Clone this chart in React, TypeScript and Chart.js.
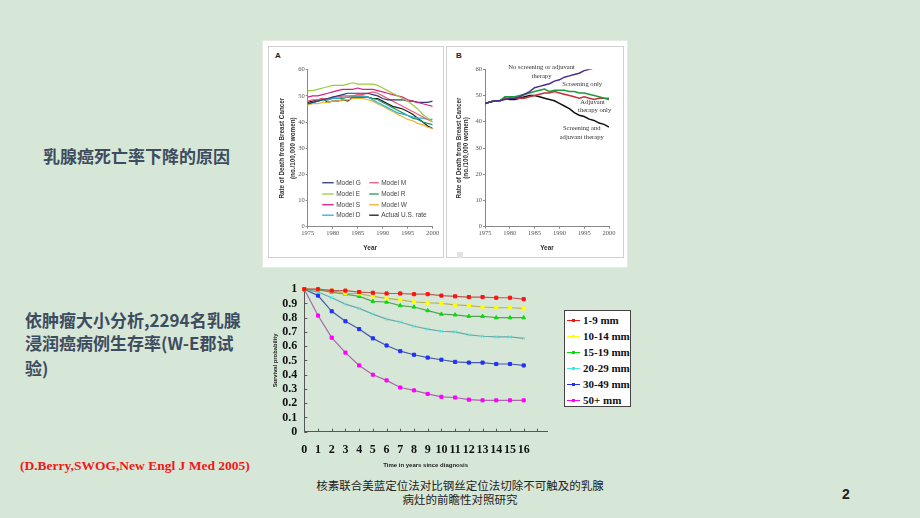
import { useEffect, useRef } from 'react';
import { Chart, registerables } from 'chart.js';

Chart.register(...registerables);

// ---------- Panel A: model estimates ----------
const YEARS = [1975, 1976, 1977, 1978, 1979, 1980, 1981, 1982, 1983, 1984, 1985, 1986, 1987, 1988, 1989, 1990, 1991, 1992, 1993, 1994, 1995, 1996, 1997, 1998, 1999, 2000];
const MODEL_G = [47, 47.5, 48, 48.5, 49, 49.5, 50, 50.5, 51, 51, 51, 51, 51, 50.5, 50, 49, 48.5, 48.5, 48.5, 48.5, 48, 48, 47.5, 47.5, 47.5, 48];
const MODEL_E = [52, 52, 52.5, 53, 53.5, 54, 54, 54, 54.5, 55, 54.5, 54.5, 54.5, 54.5, 54, 53, 52, 51, 50, 49, 48, 46.5, 45, 43, 41.5, 40];
const MODEL_S = [49.5, 50, 50, 50.5, 51, 51.5, 52, 52.5, 52.5, 52.5, 53, 52.5, 52.5, 52.5, 52, 51.5, 51, 50.5, 50, 49.5, 48.5, 48, 47.5, 47, 46.5, 46];
const MODEL_D = [47, 47.5, 48, 48.5, 48.5, 49, 49, 49.5, 49.5, 50, 50, 50, 49.5, 48.5, 47.5, 46.5, 45.5, 44.5, 43.5, 43, 42.5, 42, 41.5, 41.5, 41, 41];
const MODEL_M = [48, 48.5, 48.5, 49, 49, 49.5, 49.5, 50, 50, 50, 50.5, 50.5, 51, 51.5, 51, 50, 49, 48, 47, 46, 45, 44, 43, 42, 41, 40];
const MODEL_R = [47, 47.5, 48, 48.5, 48.5, 49, 49, 49, 49.5, 49.5, 49.5, 49.5, 49.5, 49, 48.5, 47.5, 46.5, 45.5, 44.5, 43.5, 42.5, 41.5, 41, 40, 39.5, 39];
const MODEL_W = [46.5, 47, 47, 47.5, 47.5, 48, 48, 48.5, 48.5, 49, 49, 49, 48.5, 48, 47, 46, 45, 44, 43, 42, 41, 40.5, 39.5, 39, 38, 37.5];
const ACTUAL_US = [47.5, 48, 48.5, 49, 47.5, 48, 48, 48.5, 48, 49.5, 49.5, 49.5, 49.5, 49, 49, 48, 47, 46, 45.5, 45, 44, 43, 41.5, 40, 38.5, 37.5];
const A_LEGEND_LEFT = ['Model G', 'Model E', 'Model S', 'Model D'];
const A_LEGEND_RIGHT = ['Model M', 'Model R', 'Model W', 'Actual U.S. rate'];

// ---------- Panel B: screening / adjuvant therapy ----------
const NO_SCREENING = [47, 47.5, 48, 48, 48.5, 49, 49, 49.5, 50.5, 51.5, 53, 53.5, 54, 54.5, 55.5, 56, 57, 57.5, 58, 58.5, 59.5, 60, 60.5, 61, 61.5, 62];
const SCREENING_ONLY = [47, 47.5, 48, 48, 49.5, 49.5, 49.5, 50, 50.5, 51, 51.5, 52, 52.5, 51.5, 52, 52, 52, 51.5, 51.5, 51, 51, 50.5, 50, 49.5, 49, 49];
const ADJUVANT_ONLY = [47, 47.5, 48, 48, 49, 49, 49, 49, 49, 49.5, 50, 50.5, 51, 51, 51.5, 51, 50.5, 50, 49.5, 49, 49.5, 49, 48.5, 49, 49, 48.5];
const SCREENING_AND_ADJ = [47, 47.5, 48, 48, 49, 48.5, 48.5, 49, 49.5, 50, 50, 49.5, 49, 48.5, 48, 47, 46, 45, 43.5, 42.5, 42, 41, 40.5, 39.5, 39, 38];
const B_LABELS = ['No screening or adjuvant', 'therapy', 'Screening only', 'Adjuvant', 'therapy only', 'Screening and', 'adjuvant therapy'];

// ---------- Survival by tumour size ----------
const SURV_YEARS = [0, 1, 2, 3, 4, 5, 6, 7, 8, 9, 10, 11, 12, 13, 14, 15, 16];
const SURV_1_9 = [1, 1, 0.99, 0.99, 0.98, 0.975, 0.97, 0.97, 0.965, 0.965, 0.955, 0.95, 0.945, 0.945, 0.94, 0.94, 0.93];
const SURV_10_14 = [1, 1, 0.99, 0.97, 0.97, 0.95, 0.935, 0.925, 0.91, 0.905, 0.9, 0.89, 0.885, 0.875, 0.87, 0.87, 0.865];
const SURV_15_19 = [1, 0.995, 0.98, 0.965, 0.95, 0.915, 0.91, 0.885, 0.875, 0.85, 0.825, 0.82, 0.81, 0.81, 0.8, 0.8, 0.8];
const SURV_20_29 = [1, 0.98, 0.94, 0.895, 0.865, 0.825, 0.79, 0.77, 0.74, 0.72, 0.705, 0.7, 0.68, 0.67, 0.665, 0.665, 0.655];
const SURV_30_49 = [1, 0.955, 0.845, 0.775, 0.72, 0.655, 0.605, 0.565, 0.54, 0.52, 0.505, 0.49, 0.485, 0.485, 0.475, 0.475, 0.465];
const SURV_50_PLUS = [1, 0.815, 0.66, 0.555, 0.465, 0.4, 0.36, 0.31, 0.29, 0.265, 0.245, 0.24, 0.225, 0.22, 0.22, 0.22, 0.22];
const SURV_LABELS = ['1-9 mm', '10-14 mm', '15-19 mm', '20-29 mm', '30-49 mm', '50+ mm'];
const SURV_X_TICKS = [0, 1, 2, 3, 4, 5, 6, 7, 8, 9, 10, 11, 12, 13, 14, 15, 16, 17];

const SANS = '"Liberation Sans", Arial, sans-serif';
const SERIF = '"Liberation Serif", "Times New Roman", serif';
const CJK = '"Noto Sans CJK SC", "Noto Sans", sans-serif';

const A_SERIES = [
  { label: 'Model E', data: MODEL_E, color: '#9ccc3c' },
  { label: 'Model S', data: MODEL_S, color: '#d8207c' },
  { label: 'Model G', data: MODEL_G, color: '#2b3a78' },
  { label: 'Model M', data: MODEL_M, color: '#f05a78' },
  { label: 'Model D', data: MODEL_D, color: '#2ab0d8' },
  { label: 'Model R', data: MODEL_R, color: '#1e9a5a' },
  { label: 'Model W', data: MODEL_W, color: '#f2b030' },
  { label: 'Actual U.S. rate', data: ACTUAL_US, color: '#1a1a1a' },
];

const B_SERIES = [
  { label: 'No screening or adjuvant therapy', data: NO_SCREENING, color: '#4a2d8c' },
  { label: 'Screening only', data: SCREENING_ONLY, color: '#1f9a3c' },
  { label: 'Adjuvant therapy only', data: ADJUVANT_ONLY, color: '#c8303c' },
  { label: 'Screening and adjuvant therapy', data: SCREENING_AND_ADJ, color: '#111111' },
];

const SURV_SERIES = [
  { data: SURV_1_9, line: '#b85a5a', point: '#ff1010', style: 'rect' },
  { data: SURV_10_14, line: '#b8b058', point: '#ffff00', style: 'rect' },
  { data: SURV_15_19, line: '#5aa05a', point: '#00e000', style: 'triangle' },
  { data: SURV_20_29, line: '#6aa8a8', point: '#40e8e8', style: 'crossRot' },
  { data: SURV_30_49, line: '#4a58a8', point: '#2030ff', style: 'rect' },
  { data: SURV_50_PLUS, line: '#a868a8', point: '#ff00ff', style: 'rect' },
];

function colorOf(label: string) {
  const s = A_SERIES.find((d) => d.label === label);
  return s ? s.color : '#000';
}

const aLegendPlugin = {
  id: 'aLegend',
  afterDatasetsDraw(chart: any) {
    const { ctx } = chart;
    const x = chart.scales.x;
    const y = chart.scales.y;
    const rows = [16.8, 12.5, 8.4, 4.4];
    ctx.save();
    ctx.font = `6.5px ${SANS}`;
    ctx.textBaseline = 'middle';
    ctx.textAlign = 'left';
    const drawCol = (labels: string[], x0: number, x1: number, xt: number) => {
      labels.forEach((lab, i) => {
        const py = y.getPixelForValue(rows[i]);
        ctx.strokeStyle = colorOf(lab);
        ctx.lineWidth = 1.3;
        ctx.beginPath();
        ctx.moveTo(x.getPixelForValue(x0), py);
        ctx.lineTo(x.getPixelForValue(x1), py);
        ctx.stroke();
        ctx.fillStyle = '#444';
        ctx.fillText(lab, x.getPixelForValue(xt), py);
      });
    };
    drawCol(A_LEGEND_LEFT, 1977.9, 1980.2, 1980.7);
    drawCol(A_LEGEND_RIGHT, 1987.3, 1989.2, 1989.7);
    ctx.restore();
  },
};

const bLabelPlugin = {
  id: 'bLabels',
  afterDatasetsDraw(chart: any) {
    const { ctx } = chart;
    const x = chart.scales.x;
    const y = chart.scales.y;
    const pos = [
      [1986.4, 60.9], [1986.4, 57.3], [1994.6, 54.4], [1996.7, 47.4], [1997.1, 44.2], [1994.5, 37.6], [1994.5, 34.2],
    ];
    ctx.save();
    ctx.font = `6.6px ${SERIF}`;
    ctx.fillStyle = '#333';
    ctx.textAlign = 'center';
    ctx.textBaseline = 'middle';
    B_LABELS.forEach((t, i) => {
      ctx.fillText(t, x.getPixelForValue(pos[i][0]), y.getPixelForValue(pos[i][1]));
    });
    ctx.restore();
  },
};

const inwardTicks = {
  id: 'inwardTicks',
  afterDraw(chart: any) {
    const { ctx, chartArea } = chart;
    const x = chart.scales.x;
    const y = chart.scales.y;
    ctx.save();
    ctx.strokeStyle = '#555';
    ctx.lineWidth = 1;
    SURV_X_TICKS.forEach((v) => {
      const px = Math.round(x.getPixelForValue(v)) + 0.5;
      ctx.beginPath();
      ctx.moveTo(px, chartArea.bottom);
      ctx.lineTo(px, chartArea.bottom - 3);
      ctx.stroke();
    });
    for (let i = 0; i <= 10; i++) {
      const py = Math.round(y.getPixelForValue(i / 10)) + 0.5;
      ctx.beginPath();
      ctx.moveTo(chartArea.left, py);
      ctx.lineTo(chartArea.left + 3, py);
      ctx.stroke();
    }
    ctx.restore();
  },
};

function panelConfig(series: any[], o: any, plugin: any) {
  return {
    type: 'line',
    data: {
      datasets: series.map((s) => ({
        label: s.label,
        data: YEARS.map((yr, i) => ({ x: yr, y: s.data[i] })),
        borderColor: s.color,
        borderWidth: o.lw,
        pointRadius: 0,
        tension: 0,
        fill: false,
      })),
    },
    options: {
      animation: false,
      responsive: false,
      layout: { padding: { left: 0, top: o.top, right: o.right, bottom: 0 } },
      plugins: { legend: { display: false }, tooltip: { enabled: false } },
      scales: {
        x: {
          type: 'linear',
          min: 1975,
          max: 2000,
          afterFit: (s: any) => { s.height = o.xh; },
          ticks: { stepSize: 5, callback: (v: any) => String(v), font: { family: SERIF, size: 6.5 }, color: '#555', padding: 1, maxRotation: 0, autoSkip: false },
          grid: { drawOnChartArea: false, tickLength: 2, color: '#888' },
          border: { color: '#888' },
          title: { display: true, text: 'Year', color: '#333', font: { family: SANS, size: 6.5, weight: 'bold' }, padding: { top: 0, bottom: 5.5 } },
        },
        y: {
          min: 0,
          max: 60,
          afterFit: (s: any) => { s.width = o.yw; },
          ticks: { stepSize: 10, font: { family: SERIF, size: 6.5 }, color: '#555', padding: 1 },
          grid: { drawOnChartArea: false, tickLength: 2, color: '#888' },
          border: { color: '#888' },
          title: {
            display: true,
            text: ['Rate of Death from Breast Cancer', '(no./100,000 women)'],
            color: '#333',
            font: { family: SANS, size: 6.3, weight: 'bold', lineHeight: o.tlh },
            padding: { top: o.tpad, bottom: 0 },
          },
        },
      },
    },
    plugins: [plugin],
  };
}

function survivalConfig() {
  return {
    type: 'line',
    data: {
      datasets: SURV_SERIES.map((s, i) => ({
        label: SURV_LABELS[i],
        data: SURV_YEARS.map((t, k) => ({ x: t, y: s.data[k] })),
        borderColor: s.line,
        borderWidth: 1.2,
        pointStyle: s.style,
        pointRadius: 2.2,
        pointBorderWidth: 1,
        pointBackgroundColor: s.point,
        pointBorderColor: s.point,
        tension: 0,
        fill: false,
        clip: false,
      })),
    },
    options: {
      animation: false,
      responsive: false,
      layout: { padding: { left: 0, top: 11, right: 3.2, bottom: 0 } },
      plugins: { legend: { display: false }, tooltip: { enabled: false } },
      scales: {
        x: {
          type: 'linear',
          min: 0,
          max: 17.7,
          afterFit: (s: any) => { s.height = 43.3; },
          afterBuildTicks: (s: any) => { s.ticks = SURV_X_TICKS.map((v) => ({ value: v })); },
          ticks: {
            callback: (v: any) => (v <= 16 ? String(v) : ''),
            font: { family: SERIF, size: 12, weight: 'bold' },
            color: '#111',
            padding: 11,
            maxRotation: 0,
            minRotation: 0,
            autoSkip: false,
          },
          grid: { display: false, drawTicks: false },
          border: { display: true, color: '#555' },
          title: { display: true, text: 'Time in years since diagnosis', color: '#222', font: { family: SANS, size: 6, weight: 'bold' }, padding: { top: 0, bottom: 6.4 } },
        },
        y: {
          min: 0,
          max: 1,
          afterFit: (s: any) => { s.width = 42.3; },
          ticks: {
            stepSize: 0.1,
            autoSkip: false,
            callback: (v: any) => String(Math.round(v * 10) / 10),
            font: { family: SERIF, size: 12, weight: 'bold' },
            color: '#111',
            padding: 7,
          },
          grid: { display: false, drawTicks: false },
          border: { display: true, color: '#555' },
          title: { display: true, text: 'Survival probability', color: '#222', font: { family: SANS, size: 5.8, weight: 'bold' }, padding: { top: 9.8, bottom: 0 } },
        },
      },
    },
    plugins: [inwardTicks],
  };
}

function ChartCanvas({ make, left, top, width, height }: any) {
  const ref = useRef<HTMLCanvasElement | null>(null);
  useEffect(() => {
    if (!ref.current) return;
    const chart = new Chart(ref.current, make());
    return () => chart.destroy();
  }, []);
  return (
    <canvas
      ref={ref}
      width={width}
      height={height}
      style={{ position: 'absolute', left, top, width, height }}
    />
  );
}

const abs = (left: number, top: number, extra: any = {}) => ({ position: 'absolute' as const, left, top, ...extra });

export default function App() {
  const legendRows = [320, 336, 352, 368, 384, 400];
  const para = { fontFamily: CJK, fontWeight: 700, fontSize: 17, color: '#3e4c60', lineHeight: '24px', whiteSpace: 'nowrap' };
  return (
    <div style={{ position: 'fixed', left: 0, top: 0, width: 920, height: 518, background: '#d6e7d7', overflow: 'hidden' }}>
      {/* left texts */}
      <div style={abs(43, 145, { fontFamily: CJK, fontWeight: 700, fontSize: 17, color: '#3e4c60', lineHeight: '22px', whiteSpace: 'nowrap' })}>
        乳腺癌死亡率下降的原因
      </div>
      <div style={abs(25, 308, para)}>依肿瘤大小分析,2294名乳腺</div>
      <div style={abs(25, 331, para)}>浸润癌病例生存率(W-E郡试</div>
      <div style={abs(25, 356, para)}>验)</div>
      <div style={abs(20, 458, { fontFamily: SERIF, fontWeight: 700, fontSize: 13.5, color: '#f01818', lineHeight: '16px', whiteSpace: 'nowrap' })}>
        (D.Berry,SWOG,New Engl J Med 2005)
      </div>
      <div style={abs(260, 479, { width: 400, textAlign: 'center', fontFamily: CJK, fontSize: 11.5, color: '#222', lineHeight: '13.5px' })}>
        核素联合美蓝定位法对比钢丝定位法切除不可触及的乳腺<br />病灶的前瞻性对照研究
      </div>
      <div style={abs(842, 485, { fontFamily: SANS, fontWeight: 700, fontSize: 14, color: '#222', lineHeight: '18px' })}>2</div>

      {/* figure panel */}
      <div style={abs(262, 40, { width: 366, height: 228, background: '#fff', boxSizing: 'border-box', border: '1px solid #e4ece4' })} />
      <div style={abs(268, 46, { width: 176, height: 212, boxSizing: 'border-box', border: '1px solid #d0d0d0' })} />
      <div style={abs(446, 46, { width: 178, height: 212, boxSizing: 'border-box', border: '1px solid #d0d0d0' })} />
      <div style={abs(275, 51, { fontFamily: SANS, fontWeight: 700, fontSize: 8, color: '#222' })}>A</div>
      <div style={abs(456, 51, { fontFamily: SANS, fontWeight: 700, fontSize: 8, color: '#222' })}>B</div>
      <div style={abs(457, 252, { width: 6, height: 6, background: '#e2e2e2' })} />
      <ChartCanvas
        left={268}
        top={46}
        width={176}
        height={212}
        make={() => panelConfig(A_SERIES, { top: 23.7, right: 11.3, xh: 31.3, yw: 39.7, tlh: '11px', tpad: 9.2, lw: 1.2 }, aLegendPlugin)}
      />
      <ChartCanvas
        left={447}
        top={46}
        width={177}
        height={212}
        make={() => panelConfig(B_SERIES, { top: 23.3, right: 15, xh: 31.3, yw: 38, tlh: '7.7px', tpad: 8.1, lw: 1.5 }, bLabelPlugin)}
      />

      {/* survival chart */}
      <ChartCanvas left={262} top={275} width={290} height={200} make={survivalConfig} />
      <div style={abs(564, 310, { width: 67, height: 97, background: '#fff', boxSizing: 'border-box', border: '1px solid #444' })} />
      {SURV_LABELS.map((lab, i) => (
        <div key={lab} style={abs(567, legendRows[i] - 8, { height: 16, display: 'flex', alignItems: 'center', whiteSpace: 'nowrap' })}>
          <span style={{ position: 'relative', display: 'inline-block', width: 13, height: 1, background: SURV_SERIES[i].point, marginRight: 3 }}>
            <span style={{ position: 'absolute', left: 5, top: -1, width: 3, height: 3, background: SURV_SERIES[i].point }} />
          </span>
          <span style={{ fontFamily: SERIF, fontWeight: 700, fontSize: 11, color: '#111' }}>{lab}</span>
        </div>
      ))}
    </div>
  );
}
